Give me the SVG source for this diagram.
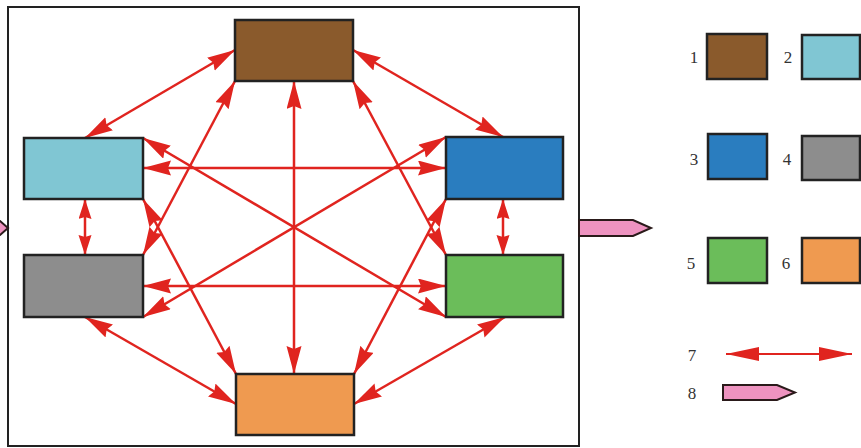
<svg xmlns="http://www.w3.org/2000/svg" width="861" height="448" viewBox="0 0 861 448">
<style>
.node{stroke:#222;stroke-width:2.5}
.c{stroke:#e0241f;stroke-width:2.5;fill:none;marker-start:url(#ah);marker-end:url(#ah)}
.cs{stroke:#e0241f;stroke-width:2.5;fill:none;marker-start:url(#ahs);marker-end:url(#ahs)}
.pink{fill:#ee93c0;stroke:#2a1a1a;stroke-width:2}
.lbl{font-family:"Liberation Serif","Times New Roman",serif;font-size:17px;fill:#333;text-anchor:middle}
</style>
<defs>
<marker id="ah" markerUnits="userSpaceOnUse" markerWidth="30" markerHeight="16" refX="28" refY="7.5" orient="auto-start-reverse">
<path d="M0,0 L28,7.5 L0,15 L3,7.5 z" fill="#e0241f"/>
</marker>
<marker id="ahs" markerUnits="userSpaceOnUse" markerWidth="22" markerHeight="14" refX="20" refY="6.5" orient="auto-start-reverse">
<path d="M0,0 L20,6.5 L0,13 L2,6.5 z" fill="#e0241f"/>
</marker>
<marker id="ahl" markerUnits="userSpaceOnUse" markerWidth="36" markerHeight="16" refX="33" refY="7" orient="auto-start-reverse">
<path d="M0,0 L33,7 L0,14 z" fill="#e0241f"/>
</marker>
</defs>
<rect x="8" y="7" width="571" height="439" fill="#fff" stroke="#222" stroke-width="2"/>
<polygon class="pink" points="-20,221 0,221 8,228 0,235 -20,235"/>
<polygon class="pink" points="579,220 633,220 651,228 633,236 579,236"/>
<g id="connectors">
<line class="c" x1="235" y1="50" x2="85" y2="138"/>
<line class="c" x1="353" y1="50" x2="503" y2="137"/>
<line class="c" x1="235" y1="81" x2="143" y2="255"/>
<line class="c" x1="353" y1="81" x2="446" y2="255"/>
<line class="c" x1="294" y1="81" x2="294" y2="374"/>
<line class="cs" x1="85" y1="199" x2="85" y2="255"/>
<line class="c" x1="143" y1="168" x2="446" y2="168"/>
<line class="c" x1="143" y1="138" x2="446" y2="317"/>
<line class="c" x1="143" y1="199" x2="236" y2="374"/>
<line class="c" x1="143" y1="317" x2="446" y2="137"/>
<line class="c" x1="143" y1="286" x2="446" y2="286"/>
<line class="c" x1="85" y1="317" x2="236" y2="404"/>
<line class="cs" x1="503" y1="199" x2="503" y2="255"/>
<line class="c" x1="446" y1="199" x2="354" y2="374"/>
<line class="c" x1="505" y1="317" x2="354" y2="404"/>
</g>
<g id="n1"><rect class="node" x="235" y="20" width="118" height="61" fill="#8a5a2c"/></g>
<g id="n2"><rect class="node" x="24" y="138" width="119" height="61" fill="#80c6d3"/></g>
<g id="n3"><rect class="node" x="446" y="137" width="117" height="62" fill="#2a7dbf"/></g>
<g id="n4"><rect class="node" x="24" y="255" width="119" height="62" fill="#8d8d8d"/></g>
<g id="n5"><rect class="node" x="446" y="255" width="117" height="62" fill="#6bbd5a"/></g>
<g id="n6"><rect class="node" x="236" y="374" width="118" height="61" fill="#ef9a50"/></g>
<g id="legend">
<text class="lbl" x="694" y="63">1</text>
<rect class="node" x="707" y="34" width="60" height="45" fill="#8a5a2c"/>
<text class="lbl" x="788" y="63">2</text>
<rect class="node" x="802" y="35" width="58" height="44" fill="#80c6d3"/>
<text class="lbl" x="694" y="165">3</text>
<rect class="node" x="708" y="134" width="59" height="45" fill="#2a7dbf"/>
<text class="lbl" x="787" y="165">4</text>
<rect class="node" x="802" y="136" width="58" height="44" fill="#8d8d8d"/>
<text class="lbl" x="691" y="269">5</text>
<rect class="node" x="708" y="238" width="59" height="45" fill="#6bbd5a"/>
<text class="lbl" x="786" y="269">6</text>
<rect class="node" x="802" y="238" width="58" height="45" fill="#ef9a50"/>
<text class="lbl" x="692" y="361">7</text>
<line x1="726" y1="354" x2="852" y2="354" stroke="#e0241f" stroke-width="2" marker-start="url(#ahl)" marker-end="url(#ahl)"/>
<text class="lbl" x="692" y="399">8</text>
<polygon class="pink" points="723,385 777,385 795,392.5 777,400 723,400"/>
</g>
</svg>
